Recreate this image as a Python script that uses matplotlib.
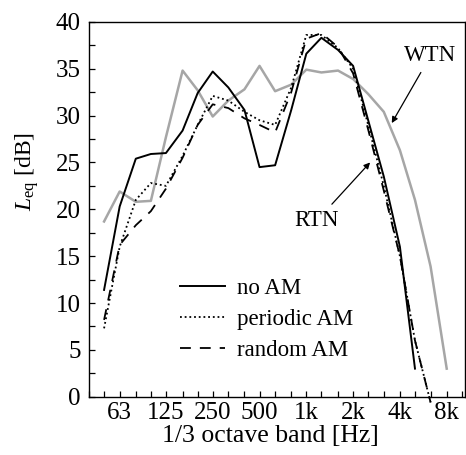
import numpy as np
import matplotlib.pyplot as plt
from matplotlib.ticker import FixedLocator, NullFormatter, MultipleLocator

plt.rcParams['font.family'] = ['Liberation Serif', 'DejaVu Serif']
plt.rcParams['mathtext.fontset'] = 'custom'
plt.rcParams['mathtext.rm'] = 'Liberation Serif'
plt.rcParams['mathtext.it'] = 'Liberation Serif:italic'

# 1/3 octave bands [Hz]
bands = [50, 63, 80, 100, 125, 160, 200, 250, 315, 400, 500, 630, 800,
         1000, 1250, 1600, 2000, 2500, 3150, 4000, 5000, 6300, 8000]
octave_ticks = [63, 125, 250, 500, 1000, 2000, 4000, 8000]
octave_labels = ['63', '125', '250', '500', '1k', '2k', '4k', '8k']

# Leq [dB]
wtn = [18.7, 21.9, 20.8, 20.9, 27.7, 34.8, 32.7, 29.9, 31.6, 32.8, 35.3, 32.6,
       33.3, 34.9, 34.6, 34.8, 33.9, 32.3, 30.4, 26.3, 21.0, 13.9, 3.0]
no_am = [11.4, 20.3, 25.4, 25.9, 26.0, 28.4, 32.4, 34.7, 33.0, 30.6, 24.5, 24.7,
         30.6, 36.6, 38.3, 37.0, 35.3, 29.5, 23.5, 16.0, 3.0]
periodic_am = [7.3, 16.0, 21.0, 22.8, 22.5, 25.7, 29.0, 32.1, 31.6, 30.4, 29.5, 29.0,
               33.0, 38.6, 38.6, 37.2, 35.0, 29.0, 22.5, 15.0, 6.0, -0.6]
random_am = [8.2, 16.2, 18.3, 19.8, 22.2, 25.5, 29.0, 31.2, 30.8, 29.7, 29.0, 28.2,
             32.5, 38.2, 38.8, 37.3, 34.5, 28.5, 22.0, 15.0, 6.0, -0.6]

fig = plt.figure(figsize=(4.66, 4.55), dpi=100)
ax = fig.add_axes([0.191, 0.128, 0.807, 0.824])

ax.plot(bands, wtn, color='#a6a6a6', lw=1.8)
ax.plot(bands[:len(no_am)], no_am, color='black', lw=1.4, label='no AM')
ax.plot(bands[:len(periodic_am)], periodic_am, color='black', lw=1.3,
        linestyle=(0, (1, 1.6)), label='periodic AM', clip_on=False)
ax.plot(bands[:len(random_am)], random_am, color='black', lw=1.3,
        linestyle=(0, (6, 5)), label='random AM', clip_on=False)

ax.set_xscale('log')
ax.set_xlim(40, 10500)
ax.set_ylim(0, 40)

ax.xaxis.set_major_locator(FixedLocator(octave_ticks))
ax.set_xticklabels(octave_labels)
ax.xaxis.set_minor_locator(FixedLocator([b for b in bands + [40, 10000] if b not in octave_ticks]))
ax.xaxis.set_minor_formatter(NullFormatter())
ax.yaxis.set_major_locator(MultipleLocator(5))
ax.yaxis.set_minor_locator(MultipleLocator(2.5))
ax.tick_params(which='both', direction='in', length=4, width=0.9, labelsize=18,
               top=False, right=False)
ax.tick_params(axis='x', pad=4)
ax.tick_params(axis='y', pad=6)
for s in ax.spines.values():
    s.set_linewidth(1.0)

ax.set_xlabel('1/3 octave band [Hz]', fontsize=18.5, va='center')
ax.xaxis.set_label_coords(0.483, -0.105)
ax.set_ylabel(r'$L_{\mathrm{eq}}$ [dB]', fontsize=17)
ax.yaxis.set_label_coords(-0.128, 0.6)

ax.annotate('WTN', xy=(3545, 29.2), xytext=(6300, 36.4), fontsize=16.5,
            ha='center', va='center',
            arrowprops=dict(arrowstyle='-|>', color='black', lw=0.9,
                            shrinkA=3, shrinkB=0, mutation_scale=9))
ax.annotate('RTN', xy=(2572, 25.0), xytext=(1170, 18.8), fontsize=16.5,
            ha='center', va='center',
            arrowprops=dict(arrowstyle='-|>', color='black', lw=0.9,
                            shrinkA=3, shrinkB=0, mutation_scale=9))

ax.legend(loc='upper left', bbox_to_anchor=(0.242, 0.317), frameon=False, fontsize=16.5,
          handlelength=1.95, handletextpad=0.55, labelspacing=0.43, borderpad=0,
          borderaxespad=0)

fig.savefig('out.png', dpi=100)
